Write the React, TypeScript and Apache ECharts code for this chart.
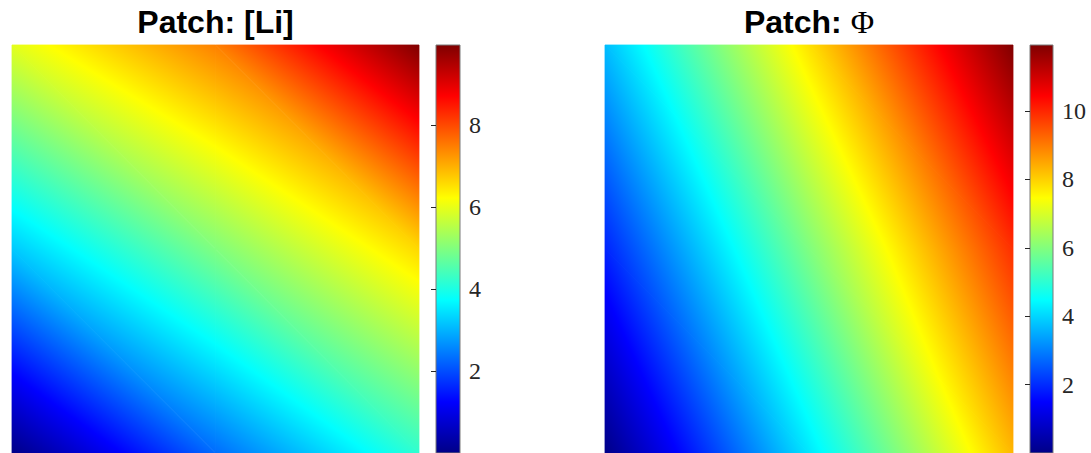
import React, { useEffect, useRef } from "react";
import * as echarts from "echarts";

// Patch vertex positions (normalised) and vertex values
const GRID_X = [0, 0.5, 1];
const GRID_Y = [1, 0.5, 0]; // rows listed top to bottom
const LI_VALUES = [
  [5.95, 7.45, 9.95],
  [3.2, 4.98, 6.6],
  [0.0, 2.3, 4.2],
];
const PHI_VALUES = [
  [3.7, 7.8, 11.93],
  [1.9, 5.96, 9.9],
  [0.0, 4.2, 8.3],
];
const LI_RANGE = [0, 9.95];
const PHI_RANGE = [0, 11.93];
const LI_TICKS = [2, 4, 6, 8];
const PHI_TICKS = [2, 4, 6, 8, 10];
const TITLES = ["Patch: [Li]", "Patch: ", "Φ"];

// MATLAB jet colormap (piecewise linear)
const JET: [number, number[]][] = [
  [0, [0, 0, 0.53]],
  [0.125, [0, 0, 1]],
  [0.375, [0, 1, 1]],
  [0.625, [1, 1, 0]],
  [0.875, [1, 0, 0]],
  [1, [0.5, 0, 0]],
];

function jet(f: number): string {
  const t = Math.max(0, Math.min(1, f));
  for (let i = 0; i < JET.length - 1; i++) {
    const [f0, c0] = JET[i];
    const [f1, c1] = JET[i + 1];
    if (t <= f1 + 1e-12) {
      const k = f1 === f0 ? 0 : (t - f0) / (f1 - f0);
      const c = c0.map((v, j) => Math.round(255 * (v + (c1[j] - v) * k)));
      return `rgb(${c[0]},${c[1]},${c[2]})`;
    }
  }
  return "rgb(128,0,0)";
}

function buildTriangles(values: number[][]) {
  const tris: number[][] = [];
  const p = (r: number, c: number) => [GRID_X[c], GRID_Y[r], values[r][c]];
  for (let r = 0; r < values.length - 1; r++) {
    for (let c = 0; c < values[r].length - 1; c++) {
      const a = p(r, c), b = p(r, c + 1), d = p(r + 1, c), e = p(r + 1, c + 1);
      tris.push([...a, ...b, ...e]);
      tris.push([...a, ...e, ...d]);
    }
  }
  return tris;
}

function makePatchRenderer(range: number[]) {
  return (params: any, api: any) => {
    const pts = [0, 1, 2].map((k) => api.coord([api.value(3 * k), api.value(3 * k + 1)]));
    const vs = [0, 1, 2].map((k) => api.value(3 * k + 2) as number);
    const span = range[1] - range[0];
    const vmin = Math.min(...vs);
    const vmax = Math.max(...vs);
    let fill: any;
    if (vmax - vmin < 1e-9) {
      fill = jet((vmin - range[0]) / span);
    } else {
      const d1 = [pts[1][0] - pts[0][0], pts[1][1] - pts[0][1]];
      const d2 = [pts[2][0] - pts[0][0], pts[2][1] - pts[0][1]];
      const dv1 = vs[1] - vs[0];
      const dv2 = vs[2] - vs[0];
      const det = d1[0] * d2[1] - d1[1] * d2[0];
      const bx = (dv1 * d2[1] - d1[1] * dv2) / det;
      const by = (d1[0] * dv2 - dv1 * d2[0]) / det;
      const g2 = bx * bx + by * by;
      const iMin = vs.indexOf(vmin);
      const s = pts[iMin];
      const L = (vmax - vmin) / g2;
      const stopVals = [vmin];
      JET.forEach(([f]) => {
        const v = range[0] + f * span;
        if (v > vmin && v < vmax) stopVals.push(v);
      });
      stopVals.push(vmax);
      fill = {
        type: "linear",
        x: s[0],
        y: s[1],
        x2: s[0] + bx * L,
        y2: s[1] + by * L,
        global: true,
        colorStops: stopVals.map((v) => ({
          offset: (v - vmin) / (vmax - vmin),
          color: jet((v - range[0]) / span),
        })),
      };
    }
    return {
      type: "polygon",
      shape: { points: pts },
      style: { fill, stroke: fill, lineWidth: 0.8 },
      silent: true,
    };
  };
}

function colorbarRenderer(params: any, api: any) {
  const p0 = api.coord([0, api.value(2)]);
  const p1 = api.coord([1, api.value(1)]);
  return {
    type: "rect",
    shape: { x: p0[0], y: p0[1], width: p1[0] - p0[0], height: p1[1] - p0[1] },
    style: {
      fill: {
        type: "linear",
        x: 0,
        y: 1,
        x2: 0,
        y2: 0,
        colorStops: JET.map(([f]) => ({ offset: f, color: jet(f) })),
      },
      stroke: "#7a7a7a",
      lineWidth: 1,
    },
    silent: true,
  };
}

function colorbarAxis(gridIndex: number, range: number[], ticks: number[]) {
  return {
    gridIndex,
    type: "value",
    min: range[0],
    max: range[1],
    position: "right",
    z: 10,
    axisLine: { show: false },
    splitLine: { show: false },
    axisTick: {
      show: true,
      inside: true,
      length: 5,
      customValues: ticks,
      lineStyle: { color: "#262626", width: 1 },
    },
    axisLabel: {
      show: true,
      customValues: ticks,
      fontFamily: "Liberation Serif",
      fontSize: 24,
      color: "#262626",
      margin: 9,
    },
  };
}

const hiddenAxis = (gridIndex: number) => ({
  gridIndex,
  type: "value",
  min: 0,
  max: 1,
  show: false,
});

export default function App() {
  const ref = useRef<HTMLDivElement>(null);
  useEffect(() => {
    if (!ref.current) return;
    const chart = echarts.init(ref.current, undefined, { renderer: "svg" });
    chart.setOption({
      animation: false,
      backgroundColor: "#ffffff",
      grid: [
        { left: 12, top: 45, width: 407, height: 408 },
        { left: 436, top: 45, width: 24, height: 408 },
        { left: 605, top: 45, width: 408, height: 408 },
        { left: 1030, top: 45, width: 23, height: 408 },
      ],
      xAxis: [hiddenAxis(0), hiddenAxis(1), hiddenAxis(2), hiddenAxis(3)],
      yAxis: [
        hiddenAxis(0),
        colorbarAxis(1, LI_RANGE, LI_TICKS),
        hiddenAxis(2),
        colorbarAxis(3, PHI_RANGE, PHI_TICKS),
      ],
      graphic: [
        {
          type: "text",
          x: 215.5,
          y: 22,
          style: {
            text: TITLES[0],
            fontFamily: "Liberation Sans",
            fontWeight: "bold",
            fontSize: 32,
            fill: "#000",
            align: "center",
            verticalAlign: "middle",
          },
        },
        {
          type: "text",
          x: 809,
          y: 22,
          style: {
            text: `{a|${TITLES[1]}}{b|${TITLES[2]}}`,
            align: "center",
            verticalAlign: "middle",
            rich: {
              a: { fontFamily: "Liberation Sans", fontWeight: "bold", fontSize: 32, fill: "#000" },
              b: { fontFamily: "Liberation Serif", fontSize: 32, fill: "#000" },
            },
          },
        },
      ],
      series: [
        {
          type: "custom",
          xAxisIndex: 0,
          yAxisIndex: 0,
          renderItem: makePatchRenderer(LI_RANGE),
          data: buildTriangles(LI_VALUES),
        },
        {
          type: "custom",
          xAxisIndex: 1,
          yAxisIndex: 1,
          renderItem: colorbarRenderer,
          data: [[0, LI_RANGE[0], LI_RANGE[1]]],
        },
        {
          type: "custom",
          xAxisIndex: 2,
          yAxisIndex: 2,
          renderItem: makePatchRenderer(PHI_RANGE),
          data: buildTriangles(PHI_VALUES),
        },
        {
          type: "custom",
          xAxisIndex: 3,
          yAxisIndex: 3,
          renderItem: colorbarRenderer,
          data: [[0, PHI_RANGE[0], PHI_RANGE[1]]],
        },
      ],
    });
    return () => chart.dispose();
  }, []);
  return (
    <div
      ref={ref}
      style={{ position: "fixed", left: 0, top: 0, width: 1091, height: 453 }}
    />
  );
}
